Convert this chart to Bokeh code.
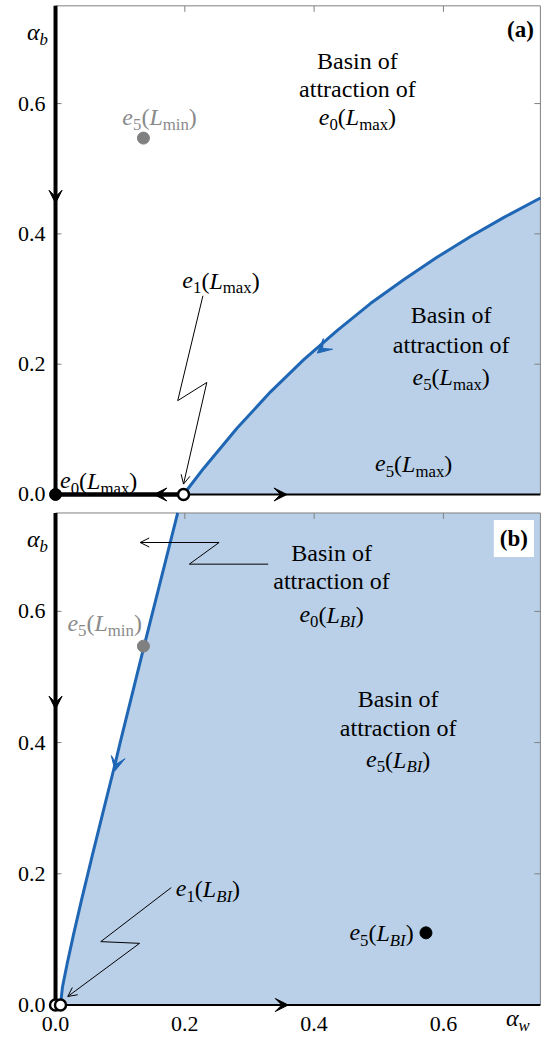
import numpy as np
from bokeh.plotting import figure
from bokeh.layouts import column
from bokeh.models import Range1d, Label, Arrow, VeeHead, OpenHead
from bokeh.embed import file_html
from bokeh.resources import INLINE

# ------------------------------------------------------------------ data
X_MAX = 0.75
Y_MAX = 0.75
TICKS = [0.0, 0.2, 0.4, 0.6]
TICK_LABELS = ["0.0", "0.2", "0.4", "0.6"]

# separatrix (stable manifold of e1) in panel (a)
SEP_A_X = [0.198, 0.229, 0.281, 0.333, 0.384, 0.436, 0.487, 0.539, 0.590, 0.642, 0.693, 0.750]
SEP_A_Y = [0.000, 0.040, 0.102, 0.158, 0.207, 0.252, 0.293, 0.330, 0.364, 0.396, 0.425, 0.455]
# separatrix in panel (b)
SEP_B_X = [0.0077, 0.0107, 0.018, 0.028, 0.040, 0.0574, 0.074, 0.092, 0.100, 0.137, 0.189]
SEP_B_Y = [0.000, 0.027, 0.063, 0.108, 0.159, 0.230, 0.296, 0.367, 0.400, 0.547, 0.750]

# equilibria
A_E0 = (0.0, 0.0)
A_E1 = (0.198, 0.0)
E5_MIN = (0.136, 0.547)
B_E0 = (0.0, 0.0)
B_E1 = (0.0077, 0.0)
B_E5 = (0.573, 0.110)

# flow arrows: (x_from, y_from, x_tip, y_tip)
A_BLACK_ARROWS = [(0.0, 0.465, 0.0, 0.447), (0.170, 0.0, 0.152, 0.0), (0.340, 0.0, 0.358, 0.0)]
A_BLUE_ARROW = (0.416, 0.2265, 0.405, 0.217)
B_BLACK_ARROWS = [(0.0, 0.469, 0.0, 0.451), (0.342, 0.0, 0.360, 0.0)]
B_BLUE_ARROW = (0.0955, 0.372, 0.092, 0.357)

# zig-zag pointer lines
ZZ_A_X = [0.228, 0.189, 0.234, 0.198]
ZZ_A_Y = [0.305, 0.144, 0.172, 0.016]
ZZ_B1_X = [0.131, 0.253, 0.207, 0.329]
ZZ_B1_Y = [0.705, 0.705, 0.672, 0.672]
ZZ_B2_X = [0.179, 0.070, 0.130, 0.019]
ZZ_B2_Y = [0.179, 0.0966, 0.094, 0.013]

# ------------------------------------------------------------------ style / layout
FONT = "Liberation Serif"
FS = 24
TICK_FS = 22
SUB = 0.7
BLUE = "#1f66b5"
FILL = "#b9d0e8"
GREY = "#808080"
GREY_TXT = "#8a8a8a"

WIDTH = 545
X_RANGE = (-0.0851, 0.7579)
H_A, Y_RANGE_A = 505, (-0.0169, 0.7582)
H_B, Y_RANGE_B = 531, (-0.0480, 0.7614)

RM_W = {' ': 250, '(': 333, ')': 333, '.': 250, 'a': 444, 'b': 500, 'c': 444, 'e': 444,
        'f': 333, 'i': 278, 'm': 778, 'n': 500, 'o': 500, 'r': 333, 's': 389, 't': 278,
        'x': 500, 'B': 667, 'I': 333, 'L': 611}
IT_W = {'e': 444, 'L': 556, 'B': 611, 'I': 333, 'b': 500, 'w': 667, 'α': 520}


def eq(i, sub, sub_it=False):
    return [("e", "it"), (str(i), "sub"), ("(", "rm"), ("L", "it"),
            (sub, "subit" if sub_it else "sub"), (")", "rm")]


def mtext(p, x, y, parts, align="center", color="black", fs=FS, dx=0.0, dy=0.0):
    sizes = [fs * SUB if st.startswith("sub") else fs for _, st in parts]
    widths = [sum((IT_W if "it" in st else RM_W).get(c, 500) for c in s) / 1000.0 * sz
              for (s, st), sz in zip(parts, sizes)]
    total = sum(widths)
    off = dx - {"left": 0.0, "center": total / 2.0, "right": total}[align]
    for (s, st), sz, w in zip(parts, sizes, widths):
        yo = dy - (0.30 * fs if st.startswith("sub") else 0.0)
        p.add_layout(Label(x=x, y=y, x_offset=off, y_offset=yo, text=s,
                           text_font=FONT, text_font_size=f"{sz:.1f}px",
                           text_font_style="italic" if "it" in st else "normal",
                           text_color=color, text_align="left",
                           text_baseline="middle"))
        off += w


def make_panel(height, y_range):
    p = figure(width=WIDTH, height=height,
               x_range=Range1d(*X_RANGE), y_range=Range1d(*y_range),
               x_axis_location=None, y_axis_location=None,
               output_backend="svg", toolbar_location=None,
               min_border=0)
    p.grid.visible = False
    p.outline_line_color = None
    p.background_fill_color = "white"
    p.border_fill_color = "white"
    return p


def frame_and_ticks(p, x_labels):
    # frame border (top / right) and inner tick marks
    p.line([0, X_MAX], [Y_MAX, Y_MAX], line_color=GREY, line_width=1)
    p.line([X_MAX, X_MAX], [0, Y_MAX], line_color=GREY, line_width=1)
    p.ray(x=TICKS[1:], y=[Y_MAX] * 3, length=6, length_units="screen",
          angle=-np.pi / 2, line_color=GREY, line_width=1)
    p.ray(x=[X_MAX] * 3, y=TICKS[1:], length=6, length_units="screen",
          angle=np.pi, line_color=GREY, line_width=1)
    p.ray(x=[0] * 3, y=TICKS[1:], length=6, length_units="screen",
          angle=0, line_color=GREY, line_width=1)
    for t, lab in zip(TICKS, TICK_LABELS):
        p.add_layout(Label(x=0, y=t, x_offset=-10, text=lab, text_font=FONT,
                           text_font_size=f"{TICK_FS}px", text_align="right",
                           text_baseline="middle", text_color="black"))
    if x_labels:
        for t, lab in zip(TICKS, TICK_LABELS):
            p.add_layout(Label(x=t, y=0, y_offset=-19, text=lab, text_font=FONT,
                               text_font_size=f"{TICK_FS}px", text_align="center",
                               text_baseline="middle", text_color="black"))


def head_arrow(p, a, color, size=13):
    p.add_layout(Arrow(x_start=a[0], y_start=a[1], x_end=a[2], y_end=a[3], line_alpha=0,
                       end=VeeHead(size=size, fill_color=color, line_color=color,
                                   line_width=1)))


def zigzag(p, xs, ys, tip_first):
    p.line(xs, ys, line_color="black", line_width=1)
    if tip_first:
        a = (xs[1], ys[1], xs[0], ys[0])
    else:
        a = (xs[-2], ys[-2], xs[-1], ys[-1])
    p.add_layout(Arrow(x_start=a[0], y_start=a[1], x_end=a[2], y_end=a[3],
                       line_alpha=0, end=OpenHead(size=9, line_width=1, line_color="black")))


# ------------------------------------------------------------------ panel (a)
pa = make_panel(H_A, Y_RANGE_A)
pa.patch(SEP_A_X + [X_MAX], SEP_A_Y + [0.0], fill_color=FILL, line_color=None)
frame_and_ticks(pa, False)
pa.line(SEP_A_X, SEP_A_Y, line_color=BLUE, line_width=3, line_join="round")
pa.line([0, 0], [0, Y_MAX], line_color="black", line_width=4)
pa.line([A_E0[0], A_E1[0]], [0, 0], line_color="black", line_width=4.5)
pa.line([A_E1[0], X_MAX], [0, 0], line_color="black", line_width=2)
for a in A_BLACK_ARROWS:
    head_arrow(pa, a, "black")
head_arrow(pa, A_BLUE_ARROW, BLUE, 14)
zigzag(pa, ZZ_A_X, ZZ_A_Y, False)
pa.scatter([E5_MIN[0]], [E5_MIN[1]], size=12, fill_color=GREY, line_color=GREY)
pa.scatter([A_E0[0]], [A_E0[1]], size=12, fill_color="black", line_color="black")
pa.scatter([A_E1[0]], [A_E1[1]], size=11, fill_color="white", line_color="black", line_width=2.5)

mtext(pa, 0.467, 0.666, [("Basin of", "rm")])
mtext(pa, 0.467, 0.623, [("attraction of", "rm")])
mtext(pa, 0.467, 0.579, eq(0, "max"))
mtext(pa, 0.161, 0.579, eq(5, "min"), color=GREY_TXT)
mtext(pa, 0.256, 0.328, eq(1, "max"))
mtext(pa, 0.612, 0.276, [("Basin of", "rm")])
mtext(pa, 0.612, 0.229, [("attraction of", "rm")])
mtext(pa, 0.612, 0.180, eq(5, "max"))
mtext(pa, 0.554, 0.047, eq(5, "max"))
mtext(pa, 0.007, 0.021, eq(0, "max"), align="left")
mtext(pa, 0.0, 0.710, [("α", "it"), ("b", "subit")], dx=-18)
pa.add_layout(Label(x=0.740, y=0.713, text="(a)", text_font=FONT,
                    text_font_size="23px", text_font_style="bold", text_align="right",
                    text_baseline="middle", text_color="black"))

# ------------------------------------------------------------------ panel (b)
pb = make_panel(H_B, Y_RANGE_B)
pb.patch(SEP_B_X + [X_MAX, X_MAX], SEP_B_Y + [Y_MAX, 0.0], fill_color=FILL, line_color=None)
frame_and_ticks(pb, True)
pb.line(SEP_B_X, SEP_B_Y, line_color=BLUE, line_width=3, line_join="round")
pb.line([0, 0], [0, Y_MAX], line_color="black", line_width=4)
pb.line([B_E1[0], X_MAX], [0, 0], line_color="black", line_width=2)
for a in B_BLACK_ARROWS:
    head_arrow(pb, a, "black")
head_arrow(pb, B_BLUE_ARROW, BLUE, 14)
zigzag(pb, ZZ_B1_X, ZZ_B1_Y, True)
zigzag(pb, ZZ_B2_X, ZZ_B2_Y, False)
pb.scatter([E5_MIN[0]], [E5_MIN[1]], size=12, fill_color=GREY, line_color=GREY)
pb.scatter([B_E5[0]], [B_E5[1]], size=12, fill_color="black", line_color="black")
pb.scatter([B_E0[0]], [B_E0[1]], size=11, fill_color="white", line_color="black", line_width=2.5)
pb.scatter([B_E1[0]], [B_E1[1]], size=11, fill_color="white", line_color="black", line_width=2.5)

mtext(pb, 0.427, 0.689, [("Basin of", "rm")])
mtext(pb, 0.427, 0.646, [("attraction of", "rm")])
mtext(pb, 0.427, 0.595, eq(0, "BI", True))
mtext(pb, 0.530, 0.466, [("Basin of", "rm")])
mtext(pb, 0.530, 0.4225, [("attraction of", "rm")])
mtext(pb, 0.530, 0.374, eq(5, "BI", True))
mtext(pb, 0.076, 0.582, eq(5, "min"), color=GREY_TXT)
mtext(pb, 0.186, 0.177, eq(1, "BI", True), align="left")
mtext(pb, 0.554, 0.110, eq(5, "BI", True), align="right")
mtext(pb, 0.0, 0.710, [("α", "it"), ("b", "subit")], dx=-18)
mtext(pb, 0.715, 0.0, [("α", "it"), ("w", "subit")], dy=-13)
pb.add_layout(Label(x=0.740, y=0.711, text="(b)", text_font=FONT,
                    text_font_size="23px", text_font_style="bold", text_align="right",
                    text_baseline="middle", text_color="black",
                    background_fill_color="white", padding=6))

layout = column(pa, pb)
open("out.html", "w").write(file_html(layout, INLINE))
